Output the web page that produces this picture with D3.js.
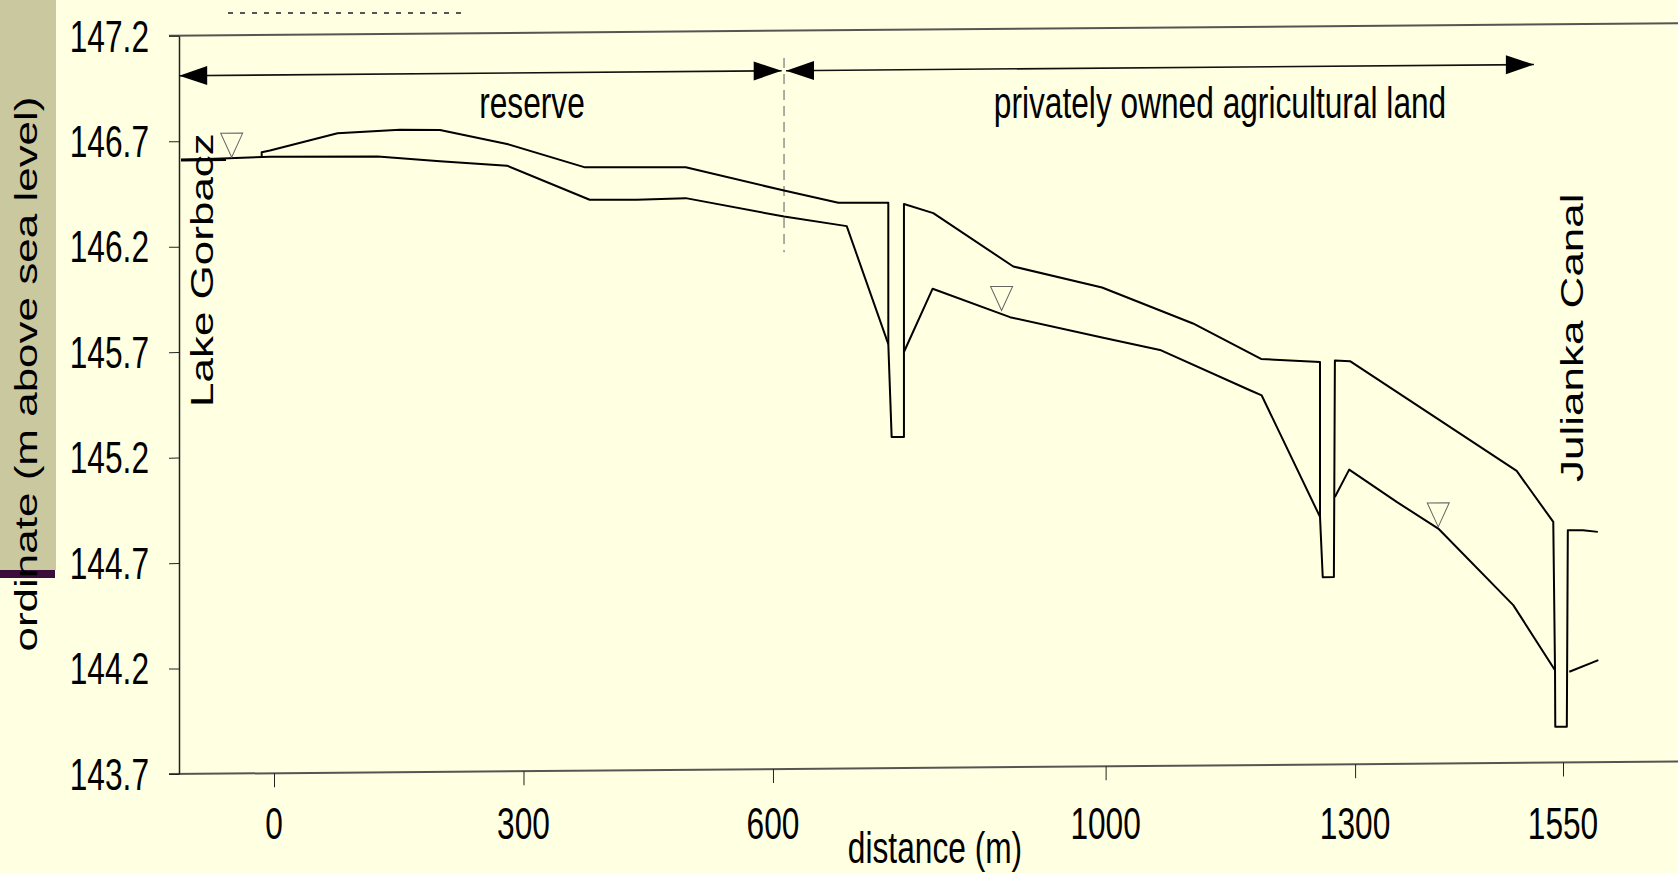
<!DOCTYPE html>
<html>
<head>
<meta charset="utf-8">
<script src="https://cdn.jsdelivr.net/npm/d3@7"></script>
<style>
	html, body { margin: 0; padding: 0; background: #FFFFE2; overflow: hidden; }
	svg { display: block; font-family: 'Liberation Sans', Arial, sans-serif; }
</style>
</head>
<body>
<svg></svg>
<script>
// cross section, points are [distance (m), ordinate (m a.s.l.)]
const xTicks = [ 0, 300, 600, 1000, 1300, 1550 ]
const yTicks = [ 143.7, 144.2, 144.7, 145.2, 145.7, 146.2, 146.7, 147.2 ]

// ground surface incl. the three ditches
const surface = [
	[ -14.8, 146.619 ], [ -14.8, 146.644 ], [ -4.8, 146.652 ], [ 76.4, 146.731 ], [ 151.5, 146.745 ],
	[ 199.6, 146.743 ], [ 280.2, 146.674 ], [ 374.0, 146.560 ], [ 495.1, 146.556 ], [ 613.3, 146.442 ],
	[ 678.6, 146.382 ], [ 738.7, 146.380 ], [ 738.7, 145.71 ], [ 742.7, 145.270 ], [ 757.5, 145.269 ],
	[ 757.5, 146.374 ], [ 792.8, 146.329 ], [ 889.0, 146.073 ], [ 995.7, 145.970 ], [ 1105.1, 145.796 ],
	[ 1186.9, 145.625 ], [ 1257.8, 145.608 ], [ 1257.8, 144.874 ], [ 1261.1, 144.588 ], [ 1274.5, 144.588 ],
	[ 1275.7, 145.615 ], [ 1293.9, 145.611 ], [ 1494.3, 145.084 ], [ 1538.3, 144.841 ], [ 1540.4, 144.139 ],
	[ 1540.7, 143.870 ], [ 1554.6, 143.869 ], [ 1555.8, 144.801 ], [ 1573.9, 144.800 ], [ 1591.9, 144.792 ]
]

// lake water surface
const lake = [ [ -111.8, 146.611 ], [ -57.7, 146.611 ] ]

// groundwater table, broken by the ditches
const waterTable = [
	[ [ -111.8, 146.611 ], [ -4.2, 146.623 ], [ 124.7, 146.619 ], [ 199.6, 146.594 ], [ 280.2, 146.571 ],
		[ 379.6, 146.406 ], [ 436.0, 146.404 ], [ 495.1, 146.410 ], [ 613.3, 146.319 ], [ 688.7, 146.271 ],
		[ 738.7, 145.71 ] ],
	[ [ 757.5, 145.672 ], [ 792.0, 145.971 ], [ 885.0, 145.833 ], [ 995.7, 145.733 ], [ 1066.7, 145.670 ],
		[ 1173.6, 145.477 ], [ 1187.7, 145.452 ], [ 1257.8, 144.874 ] ],
	[ [ 1275.7, 144.968 ], [ 1292.9, 145.097 ], [ 1350.0, 144.942 ], [ 1400.0, 144.814 ], [ 1490.2, 144.448 ],
		[ 1540.4, 144.138 ] ],
	[ [ 1557.6, 144.130 ], [ 1592.5, 144.184 ] ]
]

const waterMarks = [ [ -50.9, 146.622 ], [ 874.9, 145.865 ], [ 1400.0, 144.822 ] ]

// land use zones: name, from, to (m)
const zoneNames = [ 'reserve', 'privately owned agricultural land' ]
const zoneFrom = [ -114, 615.7 ]
const zoneTo = [ 610.5, 1515 ]
const zoneLevel = 147.01
const boundary = [ [ 613.3, 147.07 ], [ 613.3, 146.15 ] ]

const WIDTH = 1678,
	HEIGHT = 873,
	AX = 179, // screen x of the y axis
	SKEW = -0.4755, // the scanned figure is a bit slanted
	FS = 44,
	SX = 0.72 // the figure was squeezed horizontally

const svg = d3.select( 'svg' )
	.attr( 'width', WIDTH )
	.attr( 'height', HEIGHT )

svg.append( 'rect' ).attr( 'width', WIDTH ).attr( 'height', HEIGHT ).attr( 'fill', '#FFFFE2' )
svg.append( 'rect' ).attr( 'width', 56 ).attr( 'height', 570 ).attr( 'fill', '#C9C89E' )
svg.append( 'rect' ).attr( 'y', 570 ).attr( 'width', 55 ).attr( 'height', 8 ).attr( 'fill', '#3C0C3C' )

const x = d3.scaleLinear().domain( [ 0, 1550 ] ).range( [ 95, 1384 ] ),
	y = d3.scaleLinear().domain( [ 143.7, 147.2 ] ).range( [ 774, 35.7 ] ),
	line = d3.line()
		.x( d => x( d[0] ) )
		.y( d => y( d[1] ) )

const plot = svg.append( 'g' )
	.attr( 'transform', `translate( ${AX}, 0 ) skewY( ${SKEW} )` )

// top and bottom frame
plot.selectAll( '.frame' )
	.data( [ y.domain()[0], y.domain()[1] ] )
	.join( 'line' )
	.attr( 'x1', -10 )
	.attr( 'x2', WIDTH - AX + 5 )
	.attr( 'y1', d => y( d ) )
	.attr( 'y2', d => y( d ) )
	.attr( 'stroke', '#555' )
	.attr( 'stroke-width', 2 )

plot.append( 'g' )
	.call( d3.axisLeft( y ).tickValues( yTicks ).tickSize( 10 ).tickSizeOuter( 0 ).tickFormat( '' ) )
	.call( g => g.select( '.domain' ).attr( 'stroke', '#222' ).attr( 'stroke-width', 1.5 ) )
	.call( g => g.selectAll( '.tick line' ).attr( 'stroke', '#222' ) )

plot.append( 'g' )
	.attr( 'transform', `translate( 0, ${y( y.domain()[0] )} )` )
	.call( d3.axisBottom( x ).tickValues( xTicks ).tickSize( 14 ).tickFormat( '' ) )
	.call( g => g.select( '.domain' ).remove() )
	.call( g => g.selectAll( '.tick line' ).attr( 'stroke', '#222' ) )

// dashed border between the zones
plot.append( 'path' )
	.datum( boundary )
	.attr( 'd', line )
	.attr( 'stroke', '#777' )
	.attr( 'stroke-width', 1.2 )
	.attr( 'stroke-dasharray', '10,6' )

// dimension arrows
const arrowHead = ( px, py, dir ) => `M${px},${py} L${px - dir * 28},${py - 9.5} L${px - dir * 28},${py + 9.5} Z`

zoneNames.forEach( ( name, i ) => {
	const a = x( zoneFrom[i] ), b = x( zoneTo[i] ), py = y( zoneLevel )
	plot.append( 'line' )
		.attr( 'x1', a ).attr( 'x2', b )
		.attr( 'y1', py ).attr( 'y2', py )
		.attr( 'stroke', '#111' )
		.attr( 'stroke-width', 1.6 )
	plot.append( 'path' ).attr( 'd', arrowHead( a, py, -1 ) ).attr( 'fill', '#000' )
	plot.append( 'path' ).attr( 'd', arrowHead( b, py, 1 ) ).attr( 'fill', '#000' )
})

plot.append( 'path' )
	.datum( surface )
	.attr( 'd', line )
	.attr( 'fill', 'none' )
	.attr( 'stroke', '#000' )
	.attr( 'stroke-width', 2 )
	.attr( 'stroke-linejoin', 'round' )

plot.selectAll( '.wt' )
	.data( waterTable )
	.join( 'path' )
	.attr( 'class', 'wt' )
	.attr( 'd', line )
	.attr( 'fill', 'none' )
	.attr( 'stroke', '#000' )
	.attr( 'stroke-width', 2 )
	.attr( 'stroke-linejoin', 'round' )

plot.append( 'path' )
	.datum( lake )
	.attr( 'd', line )
	.attr( 'stroke', '#000' )
	.attr( 'stroke-width', 3 )

// water level symbols
plot.selectAll( '.mark' )
	.data( waterMarks )
	.join( 'path' )
	.attr( 'class', 'mark' )
	.attr( 'd', d => {
		const px = x( d[0] ), py = y( d[1] )
		return `M${px},${py} L${px - 11},${py - 24} L${px + 11},${py - 24} Z`
	})
	.attr( 'fill', 'none' )
	.attr( 'stroke', '#666' )
	.attr( 'stroke-width', 1 )

// texts, not slanted
const txt = svg.append( 'g' ).attr( 'font-size', FS ).attr( 'fill', '#000' )

txt.selectAll( '.ylab' )
	.data( yTicks )
	.join( 'text' )
	.attr( 'transform', d => `translate( 149, ${y( d )} ) scale( ${SX}, 1 )` )
	.attr( 'dy', '0.36em' )
	.attr( 'text-anchor', 'end' )
	.text( d3.format( '.1f' ) )

txt.selectAll( '.xlab' )
	.data( xTicks )
	.join( 'text' )
	.attr( 'transform', d => `translate( ${AX + x( d )}, 839 ) scale( ${SX}, 1 )` )
	.attr( 'text-anchor', 'middle' )
	.text( d => d )

const label = ( s, px, py, anchor, rot ) => txt.append( 'text' )
	.attr( 'transform', `translate( ${px}, ${py} ) scale( ${SX}, 1 )` + ( rot ? ' rotate( -90 )' : '' ) )
	.attr( 'text-anchor', anchor )
	.text( s )

label( zoneNames[0], 532, 118, 'middle' )
label( zoneNames[1], 1220, 118, 'middle' )
label( 'distance (m)', 935, 863, 'middle' )
label( 'ordinate (m above sea level)', 37, 374, 'middle', true )
label( 'Lake Gorbacz', 213, 407, 'start', true )
label( 'Julianka Canal', 1583, 482, 'start', true )

// bits of a cut off heading at the very top
svg.append( 'line' )
	.attr( 'x1', 228 ).attr( 'x2', 467 )
	.attr( 'y1', 13 ).attr( 'y2', 13 )
	.attr( 'stroke', '#555' )
	.attr( 'stroke-width', 2 )
	.attr( 'stroke-dasharray', '5,7' )
</script>
</body>
</html>
